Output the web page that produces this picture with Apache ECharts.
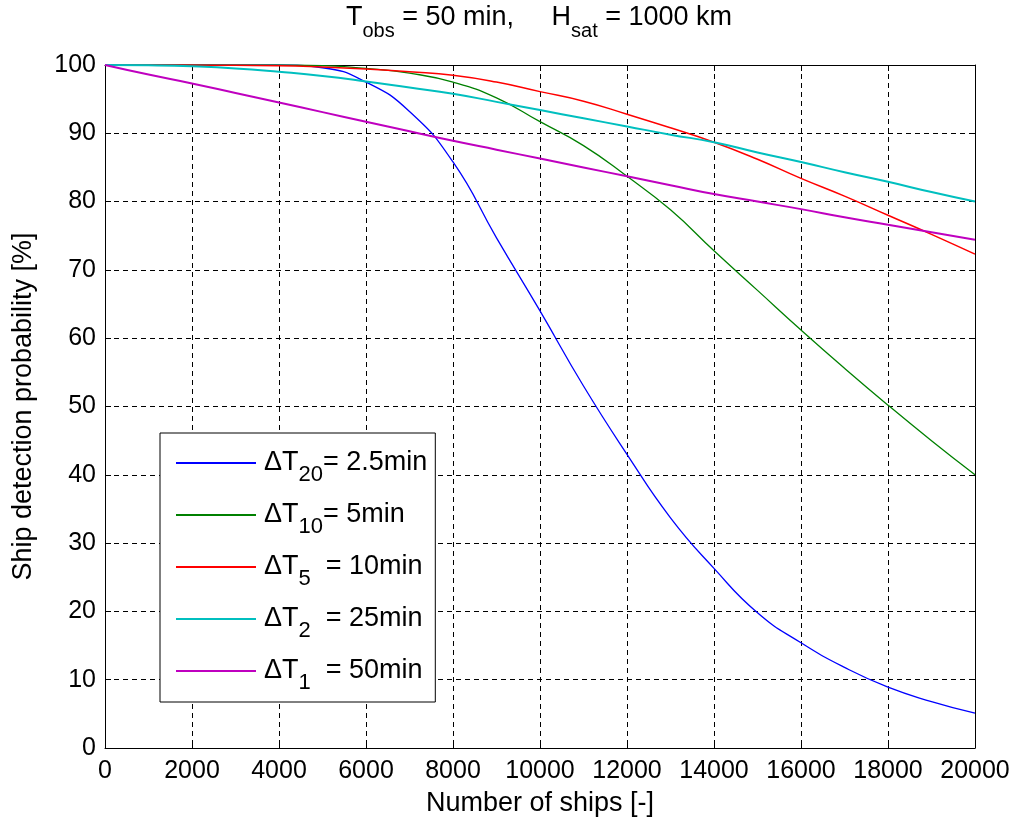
<!DOCTYPE html>
<html>
<head>
<meta charset="utf-8">
<script src="https://cdn.jsdelivr.net/npm/echarts@6/dist/echarts.min.js"></script>
<style>
  html, body { margin: 0; padding: 0; background: #fff; }
  #chart { width: 1016px; height: 823px; }
</style>
</head>
<body>
<div id="chart"></div>
<script>
// number of ships
const ships = [0, 1000, 2000, 3000, 4000, 5000, 6000, 7000, 8000, 9000, 10000,
  11000, 12000, 13000, 14000, 15000, 16000, 17000, 18000, 19000, 20000]

// detection probability [%] per revisit time
const dt20 = [100, 100, 100, 100, 100, 99.6, 97.5, 93.2, 85.8, 74.7, 64,
  53, 43, 33.7, 26.3, 19.8, 15.4, 11.8, 8.9, 6.8, 5.1]
const dt10 = [100, 100, 100, 100, 100, 99.9, 99.5, 98.8, 97.5, 95.2, 91.7,
  88.2, 83.7, 78.8, 72.8, 67, 61.2, 55.6, 50.2, 45, 40]
const dt5 = [100, 100, 100, 99.95, 99.9, 99.7, 99.4, 99, 98.5, 97.5, 96.1,
  94.7, 92.8, 90.8, 88.7, 86.2, 83.4, 80.8, 78, 75.2, 72.3]
const dt2 = [100, 99.95, 99.8, 99.5, 99, 98.4, 97.6, 96.7, 95.8, 94.6, 93.4,
  92.2, 91, 89.8, 88.7, 87.2, 85.8, 84.3, 82.9, 81.4, 80]
const dt1 = [100, 98.6, 97.3, 95.9, 94.5, 93.1, 91.7, 90.3, 88.9, 87.6, 86.3,
  85, 83.7, 82.4, 81.1, 80, 78.9, 77.7, 76.6, 75.5, 74.4]

const seriesNames = ['ΔT20= 2.5min', 'ΔT10= 5min', 'ΔT5 = 10min', 'ΔT2 = 25min', 'ΔT1 = 50min']
const legendRich = {
  'ΔT20= 2.5min': '{n|ΔT}{s|20}{n|= 2.5min}',
  'ΔT10= 5min': '{n|ΔT}{s|10}{n|= 5min}',
  'ΔT5 = 10min': '{n|ΔT}{s|5}{n|  = 10min}',
  'ΔT2 = 25min': '{n|ΔT}{s|2}{n|  = 25min}',
  'ΔT1 = 50min': '{n|ΔT}{s|1}{n|  = 50min}',
}
const colors = ['#0000ff', '#008000', '#ff0000', '#00bfbf', '#bf00bf']
const widths = [1.3, 1.3, 1.5, 2, 2]
const allData = [dt20, dt10, dt5, dt2, dt1]

const FONT = 'Liberation Sans, Arial, sans-serif'
const FS = 27
const TICK_FS = 25

const chart = echarts.init(document.getElementById('chart'))

// subscripts: top padding pushes the glyphs down below the baseline
const titleRich = {
  n: { fontSize: FS, fontFamily: FONT, color: '#000', lineHeight: 30, verticalAlign: 'middle' },
  s: { fontSize: 20, fontFamily: FONT, color: '#000', lineHeight: 20, padding: [26, 0, 0, 0], verticalAlign: 'middle' },
}
const legendTextRich = {
  n: { fontSize: FS, fontFamily: FONT, color: '#000', lineHeight: 30, verticalAlign: 'middle' },
  s: { fontSize: 22, fontFamily: FONT, color: '#000', lineHeight: 22, padding: [24, 0, 0, 0], verticalAlign: 'middle' },
}

const tickCommon = {
  axisLine: { show: true, onZero: false, lineStyle: { color: '#000', width: 1 } },
  axisTick: { show: true, inside: true, length: 6, lineStyle: { color: '#000' } },
}

const option = {
  animation: false,
  backgroundColor: '#fff',
  color: colors,
  title: {
    text: '{n|T}{s|obs}{n| = 50 min,     H}{s|sat}{n| = 1000 km}',
    left: 534,
    top: -2,
    textAlign: 'center',
    textStyle: { fontWeight: 'normal', rich: titleRich },
  },
  legend: {
    orient: 'vertical',
    left: 160,
    top: 433,
    data: seriesNames,
    itemWidth: 80,
    itemHeight: 14,
    itemGap: 6,
    padding: [7, 8, 8, 15],
    backgroundColor: '#fff',
    borderColor: '#000',
    borderWidth: 1,
    borderRadius: 0,
    itemStyle: { opacity: 0 },
    formatter: name => legendRich[name],
    textStyle: { rich: legendTextRich, padding: [0, 0, 0, 3] },
  },
  grid: { left: 105, right: 41, top: 65, bottom: 75, containLabel: false },
  xAxis: [
    {
      type: 'value',
      min: 0,
      max: 20000,
      interval: 2000,
      name: 'Number of ships [-]',
      nameLocation: 'middle',
      nameGap: 42,
      nameTextStyle: { fontSize: FS, fontFamily: FONT, color: '#000' },
      axisLabel: { fontSize: TICK_FS, fontFamily: FONT, color: '#000', margin: 11, formatter: v => String(v) },
      splitLine: { show: true, lineStyle: { color: '#000', type: [5, 4], width: 1 } },
      ...tickCommon,
    },
    {
      type: 'value',
      position: 'top',
      min: 0,
      max: 20000,
      interval: 2000,
      axisLabel: { show: false },
      splitLine: { show: false },
      ...tickCommon,
    },
  ],
  yAxis: [
    {
      type: 'value',
      min: 0,
      max: 100,
      interval: 10,
      name: 'Ship detection probability [%]',
      nameLocation: 'middle',
      nameGap: 68,
      nameTextStyle: { fontSize: FS, fontFamily: FONT, color: '#000' },
      axisLabel: { fontSize: TICK_FS, fontFamily: FONT, color: '#000', margin: 9 },
      splitLine: { show: true, lineStyle: { color: '#000', type: [5, 4], width: 1 } },
      ...tickCommon,
    },
    {
      type: 'value',
      position: 'right',
      min: 0,
      max: 100,
      interval: 10,
      axisLabel: { show: false },
      splitLine: { show: false },
      ...tickCommon,
    },
  ],
  series: seriesNames.map((name, i) => ({
    name,
    type: 'line',
    data: ships.map((x, j) => [x, allData[i][j]]),
    symbol: 'none',
    smooth: 0.5,
    lineStyle: { width: widths[i], color: colors[i] },
    z: 3 + i,
  })),
}

chart.setOption(option)
</script>
</body>
</html>
